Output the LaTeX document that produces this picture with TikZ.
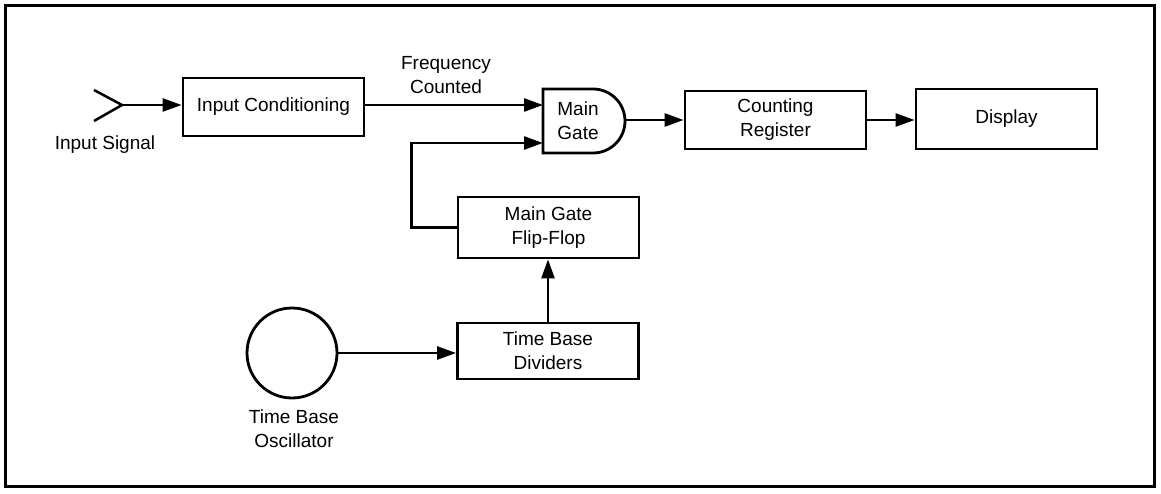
\documentclass[tikz,border=0pt]{standalone}
\usepackage{fontspec}
\setmainfont{Liberation Sans}
\usetikzlibrary{arrows.meta, positioning, calc}

\tikzset{
  block/.style={draw, line width=2.8pt, minimum width=181pt, minimum height=58pt, align=center, inner sep=0pt},
  link/.style={line width=2.5pt, -{Triangle[length=19pt,width=13pt]}}
}

\begin{document}
\begin{tikzpicture}[x=1pt, y=1pt, font=\fontsize{19}{24}\selectfont]
      \useasboundingbox (0,0) rectangle (1161,493);
      \draw[line width=3pt] (5,7) rectangle (1154,487);

      \node[block] (cond) at (273.5,386) {Input Conditioning};
      \node[block] (reg) at (775.5,373) {Counting\\Register};
      \node[block, minimum height=60pt] (disp) at (1006.5,374) {Display};
      \node[block, minimum height=61pt] (flip) at (548.5,265.5) {Main Gate\\Flip-Flop};
      \node[block, minimum height=56pt] (div) at (548,142) {Time Base\\Dividers};
      \node[circle, draw, line width=2.8pt, minimum size=90pt, inner sep=0pt] (osc) at (292,140) {};

      \node (inlabel) at (105,348) {Input Signal};
      \node[align=center] (freq) at (446,418) {Frequency\\Counted};
      \node[align=center] (osclabel) at (294,64) {Time Base\\Oscillator};

      % antenna
      \coordinate (ant) at (122,388);
      \draw[line width=2.5pt] (94,403) -- (ant) -- (94,372);

      % main gate
      \coordinate (in1) at (543,388);
      \coordinate (in2) at (543,350);
      \coordinate (gout) at (625,373);
      \draw[line width=2.8pt] (543,404) -- (593,404) arc (90:-90:32) -- (543,340) -- cycle;
      \node[align=center] (gate) at (578,372) {Main\\Gate};

      \draw[link] (ant) -- (ant -| cond.west);
      \draw[link] (cond.east |- in1) -- (in1);
      \draw[link] (flip.west) -- ++(-45,0) |- (in2);
      \draw[link] (gout) -- (gout -| reg.west);
      \draw[link] (reg.east) -- (reg.east -| disp.west);
      \draw[link] (osc.east) -- (osc.east -| div.west);
      \draw[link] (div.north) -- (div.north |- flip.south);

    \end{tikzpicture}
\end{document}
